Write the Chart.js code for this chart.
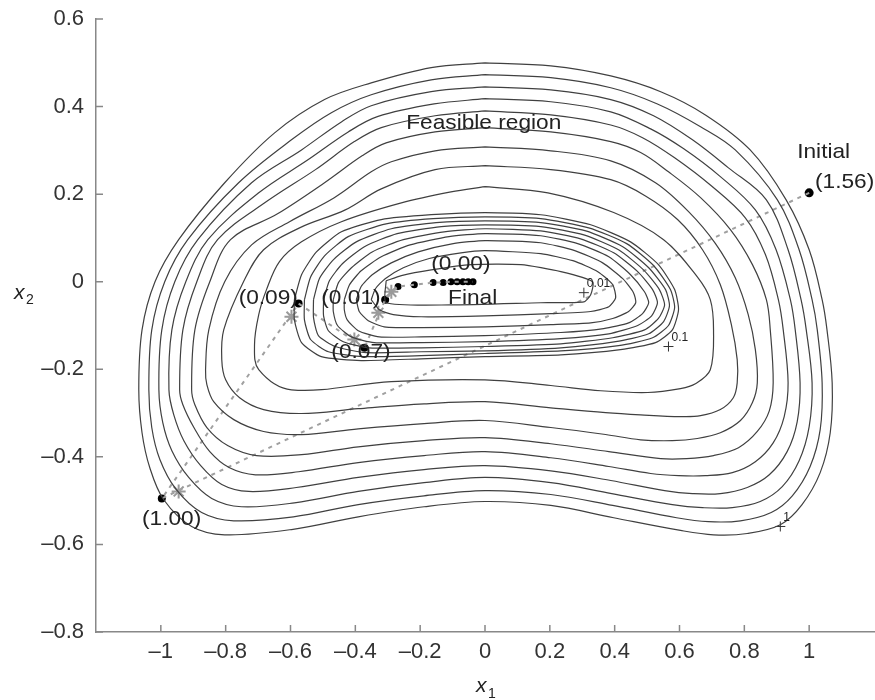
<!DOCTYPE html>
<html>
<head>
<meta charset="utf-8">
<script src="https://cdn.jsdelivr.net/npm/chart.js@4.4.0/dist/chart.umd.min.js"></script>
<style>
  body { margin: 0; background: #fff; }
  canvas { display: block; }
</style>
</head>
<body>
<canvas id="chart" width="875" height="700"></canvas>
<script>
// axis ticks
const xTicks = [-1, -0.8, -0.6, -0.4, -0.2, 0, 0.2, 0.4, 0.6, 0.8, 1];
const yTicks = [-0.8, -0.6, -0.4, -0.2, 0, 0.2, 0.4, 0.6];

// outer contour family (innermost k1 ... outermost k9, the "1" level)
const outerK9 = [[0,0.5],[0.203,0.493],[0.388,0.470],[0.542,0.434],[0.680,0.381],[0.818,0.301],[0.929,0.187],[1.000,0.073],[1.040,-0.041],[1.055,-0.110],[1.071,-0.231],[1.065,-0.345],[1.034,-0.436],[0.978,-0.509],[0.911,-0.555],[0.809,-0.575],[0.705,-0.578],[0.603,-0.568],[0.397,-0.539],[0.203,-0.511],[0,-0.502],[-0.188,-0.514],[-0.391,-0.537],[-0.597,-0.566],[-0.803,-0.578],[-0.905,-0.559],[-0.991,-0.498],[-1.034,-0.425],[-1.058,-0.345],[-1.068,-0.247],[-1.058,-0.110],[-1.018,0],[-0.945,0.096],[-0.803,0.226],[-0.649,0.340],[-0.495,0.416],[-0.351,0.454],[-0.166,0.489],[0,0.5]];
const outerK8 = [[0,0.473],[0.203,0.466],[0.388,0.443],[0.532,0.406],[0.665,0.354],[0.772,0.301],[0.902,0.187],[0.969,0.073],[1.009,-0.041],[1.025,-0.110],[1.040,-0.231],[1.034,-0.338],[1.003,-0.422],[0.948,-0.489],[0.883,-0.527],[0.788,-0.546],[0.689,-0.548],[0.591,-0.539],[0.394,-0.511],[0.203,-0.486],[0,-0.477],[-0.188,-0.489],[-0.391,-0.509],[-0.591,-0.537],[-0.775,-0.546],[-0.874,-0.527],[-0.954,-0.473],[-1.003,-0.406],[-1.028,-0.333],[-1.037,-0.247],[-1.028,-0.110],[-0.988,0],[-0.917,0.096],[-0.760,0.226],[-0.597,0.324],[-0.474,0.386],[-0.351,0.427],[-0.166,0.461],[0,0.473]];
const outerK7 = [[0,0.445],[0.203,0.438],[0.388,0.416],[0.520,0.379],[0.640,0.324],[0.751,0.260],[0.868,0.187],[0.935,0.073],[0.975,-0.041],[0.991,-0.110],[1.009,-0.231],[1.000,-0.331],[0.969,-0.409],[0.917,-0.468],[0.849,-0.502],[0.763,-0.516],[0.671,-0.516],[0.578,-0.509],[0.391,-0.484],[0.203,-0.459],[0,-0.447],[-0.188,-0.459],[-0.391,-0.479],[-0.588,-0.505],[-0.751,-0.514],[-0.843,-0.495],[-0.914,-0.447],[-0.966,-0.386],[-0.994,-0.322],[-1.006,-0.247],[-0.997,-0.110],[-0.957,0],[-0.886,0.096],[-0.720,0.226],[-0.566,0.301],[-0.443,0.365],[-0.351,0.402],[-0.166,0.434],[0,0.445]];
const outerK6 = [[0,0.418],[0.203,0.411],[0.388,0.388],[0.511,0.349],[0.612,0.304],[0.726,0.240],[0.834,0.164],[0.898,0.073],[0.942,-0.041],[0.957,-0.110],[0.972,-0.231],[0.963,-0.320],[0.932,-0.388],[0.877,-0.441],[0.809,-0.470],[0.726,-0.484],[0.640,-0.484],[0.554,-0.477],[0.388,-0.454],[0.203,-0.432],[0,-0.420],[-0.188,-0.429],[-0.391,-0.447],[-0.582,-0.470],[-0.729,-0.479],[-0.812,-0.463],[-0.877,-0.420],[-0.929,-0.363],[-0.960,-0.304],[-0.975,-0.247],[-0.966,-0.110],[-0.923,0],[-0.855,0.096],[-0.698,0.203],[-0.545,0.279],[-0.422,0.342],[-0.332,0.377],[-0.157,0.406],[0,0.418]];
const outerK5 = [[0,0.390],[0.203,0.381],[0.388,0.358],[0.486,0.329],[0.585,0.283],[0.698,0.219],[0.803,0.146],[0.865,0.062],[0.905,-0.041],[0.920,-0.110],[0.935,-0.231],[0.923,-0.308],[0.889,-0.368],[0.834,-0.411],[0.763,-0.436],[0.680,-0.443],[0.597,-0.443],[0.511,-0.438],[0.382,-0.422],[0.203,-0.402],[0,-0.388],[-0.188,-0.397],[-0.391,-0.413],[-0.575,-0.434],[-0.708,-0.441],[-0.788,-0.425],[-0.849,-0.388],[-0.898,-0.333],[-0.932,-0.281],[-0.942,-0.247],[-0.932,-0.110],[-0.889,0],[-0.825,0.096],[-0.674,0.183],[-0.523,0.256],[-0.403,0.320],[-0.320,0.352],[-0.154,0.379],[0,0.390]];
const outerK4 = [[0,0.352],[0.203,0.342],[0.388,0.320],[0.480,0.295],[0.566,0.251],[0.665,0.192],[0.757,0.119],[0.825,0.039],[0.868,-0.041],[0.880,-0.110],[0.889,-0.231],[0.877,-0.295],[0.840,-0.342],[0.782,-0.379],[0.705,-0.397],[0.622,-0.404],[0.542,-0.404],[0.382,-0.388],[0.203,-0.370],[0,-0.356],[-0.188,-0.363],[-0.391,-0.377],[-0.566,-0.395],[-0.705,-0.397],[-0.794,-0.374],[-0.858,-0.333],[-0.895,-0.281],[-0.905,-0.247],[-0.895,-0.110],[-0.849,0],[-0.785,0.096],[-0.640,0.155],[-0.495,0.226],[-0.378,0.288],[-0.305,0.317],[-0.154,0.342],[0,0.352]];
const outerK3 = [[0,0.308],[0.203,0.299],[0.388,0.276],[0.526,0.226],[0.628,0.160],[0.711,0.087],[0.772,0.009],[0.812,-0.075],[0.834,-0.155],[0.840,-0.231],[0.825,-0.276],[0.788,-0.317],[0.726,-0.345],[0.655,-0.358],[0.578,-0.363],[0.480,-0.361],[0.372,-0.349],[0.203,-0.333],[0,-0.317],[-0.188,-0.324],[-0.391,-0.336],[-0.566,-0.349],[-0.683,-0.342],[-0.775,-0.315],[-0.837,-0.274],[-0.858,-0.235],[-0.862,-0.201],[-0.852,-0.110],[-0.803,0],[-0.720,0.084],[-0.603,0.137],[-0.465,0.192],[-0.351,0.251],[-0.289,0.274],[-0.154,0.299],[0,0.308]];
const outerK2 = [[0,0.265],[0.203,0.256],[0.388,0.233],[0.495,0.196],[0.594,0.142],[0.671,0.073],[0.726,-0.007],[0.760,-0.098],[0.778,-0.178],[0.778,-0.231],[0.766,-0.265],[0.726,-0.292],[0.665,-0.306],[0.603,-0.308],[0.480,-0.304],[0.372,-0.299],[0.203,-0.288],[0,-0.274],[-0.188,-0.279],[-0.391,-0.290],[-0.566,-0.301],[-0.683,-0.292],[-0.757,-0.265],[-0.800,-0.224],[-0.812,-0.178],[-0.806,-0.110],[-0.745,0],[-0.683,0.073],[-0.572,0.123],[-0.431,0.164],[-0.320,0.212],[-0.154,0.256],[0,0.265]];
const outerK1 = [[0,0.217],[0.194,0.203],[0.397,0.158],[0.551,0.096],[0.655,0.011],[0.695,-0.041],[0.705,-0.110],[0.695,-0.201],[0.649,-0.233],[0.603,-0.244],[0.502,-0.253],[0.357,-0.249],[0.203,-0.237],[0,-0.224],[-0.289,-0.228],[-0.597,-0.247],[-0.698,-0.201],[-0.711,-0.144],[-0.698,-0.075],[-0.674,-0.018],[-0.634,0.046],[-0.566,0.091],[-0.443,0.137],[-0.258,0.180],[-0.105,0.205],[0,0.217]];

// inner, tightly packed family (c1 = "0.01" ... c9 = "0.1")
const innerC9 = [[-0.588,-0.041],[-0.566,0.016],[-0.520,0.068],[-0.443,0.114],[-0.320,0.142],[-0.166,0.153],[0,0.158],[0.172,0.153],[0.326,0.130],[0.449,0.091],[0.535,0.039],[0.585,-0.018],[0.597,-0.064],[0.578,-0.110],[0.526,-0.139],[0.418,-0.155],[0.234,-0.167],[0,-0.171],[-0.197,-0.176],[-0.382,-0.180],[-0.505,-0.171],[-0.566,-0.139],[-0.588,-0.087],[-0.588,-0.041]];
const innerC8 = [[-0.557,-0.041],[-0.538,0.011],[-0.495,0.059],[-0.422,0.103],[-0.305,0.132],[-0.160,0.144],[0,0.148],[0.172,0.144],[0.320,0.123],[0.437,0.087],[0.520,0.037],[0.572,-0.018],[0.585,-0.059],[0.566,-0.100],[0.517,-0.128],[0.412,-0.146],[0.234,-0.158],[0,-0.164],[-0.197,-0.169],[-0.375,-0.171],[-0.483,-0.160],[-0.538,-0.132],[-0.557,-0.087],[-0.557,-0.041]];
const innerC7 = [[-0.529,-0.041],[-0.511,0.007],[-0.468,0.050],[-0.397,0.091],[-0.289,0.121],[-0.151,0.135],[0,0.139],[0.172,0.135],[0.311,0.116],[0.425,0.080],[0.505,0.032],[0.557,-0.018],[0.569,-0.055],[0.551,-0.091],[0.505,-0.119],[0.403,-0.137],[0.234,-0.151],[0,-0.158],[-0.197,-0.160],[-0.366,-0.162],[-0.462,-0.148],[-0.514,-0.123],[-0.529,-0.082],[-0.529,-0.041]];
const innerC6 = [[-0.498,-0.041],[-0.480,0.002],[-0.440,0.041],[-0.372,0.080],[-0.271,0.110],[-0.135,0.126],[0,0.130],[0.172,0.126],[0.305,0.107],[0.412,0.073],[0.489,0.027],[0.538,-0.018],[0.554,-0.053],[0.535,-0.084],[0.492,-0.110],[0.394,-0.128],[0.234,-0.142],[0,-0.148],[-0.197,-0.151],[-0.357,-0.151],[-0.437,-0.137],[-0.483,-0.112],[-0.498,-0.078],[-0.498,-0.041]];
const innerC5 = [[-0.468,-0.041],[-0.452,-0.002],[-0.412,0.032],[-0.348,0.068],[-0.252,0.096],[-0.126,0.114],[0,0.121],[0.172,0.116],[0.295,0.098],[0.397,0.066],[0.471,0.023],[0.517,-0.018],[0.532,-0.048],[0.514,-0.078],[0.471,-0.100],[0.382,-0.119],[0.234,-0.130],[0,-0.137],[-0.197,-0.139],[-0.342,-0.139],[-0.412,-0.126],[-0.455,-0.100],[-0.468,-0.068],[-0.468,-0.041]];
const innerC4 = [[-0.434,-0.041],[-0.418,-0.007],[-0.382,0.025],[-0.320,0.057],[-0.231,0.084],[-0.111,0.103],[0,0.110],[0.172,0.105],[0.286,0.087],[0.382,0.057],[0.449,0.016],[0.492,-0.023],[0.505,-0.048],[0.486,-0.073],[0.443,-0.094],[0.366,-0.107],[0.234,-0.116],[0,-0.123],[-0.197,-0.126],[-0.326,-0.126],[-0.391,-0.112],[-0.425,-0.087],[-0.434,-0.064],[-0.434,-0.041]];
const innerC3 = [[-0.397,-0.041],[-0.382,-0.011],[-0.348,0.016],[-0.289,0.043],[-0.206,0.068],[-0.098,0.087],[0,0.094],[0.172,0.089],[0.277,0.071],[0.363,0.043],[0.425,0.007],[0.458,-0.025],[0.465,-0.048],[0.443,-0.068],[0.394,-0.084],[0.326,-0.094],[0.203,-0.098],[0,-0.103],[-0.197,-0.105],[-0.311,-0.103],[-0.360,-0.089],[-0.388,-0.068],[-0.397,-0.041]];
const innerC2 = [[-0.351,-0.041],[-0.338,-0.016],[-0.308,0.007],[-0.252,0.032],[-0.172,0.053],[-0.074,0.066],[0,0.071],[0.172,0.064],[0.271,0.048],[0.348,0.023],[0.394,-0.007],[0.403,-0.037],[0.382,-0.057],[0.326,-0.068],[0.203,-0.073],[0,-0.078],[-0.197,-0.080],[-0.283,-0.075],[-0.326,-0.064],[-0.351,-0.041]];
const innerC1 = [[-0.305,0.002],[-0.258,0.014],[-0.166,0.027],[-0.043,0.039],[0.111,0.039],[0.234,0.023],[0.332,0],[0.326,-0.030],[0.305,-0.046],[0.172,-0.048],[-0.105,-0.053],[-0.305,-0.048],[-0.305,0.002]];

// optimisation path: iterates from Initial (1.56) to Final (0.00)
const pathX = [1.0, -0.997, -0.575, -0.372, -0.308, -0.268, -0.218, -0.160, -0.129, -0.105, -0.086, -0.068, -0.052, -0.037];
const pathY = [0.203, -0.495, -0.050, -0.151, -0.041, -0.011, -0.007, -0.002, -0.002, 0, 0, 0, 0, 0];
const arrowX = [-0.945, -0.597, -0.403, -0.329, -0.289];
const arrowY = [-0.479, -0.080, -0.132, -0.071, -0.023];

// contour level labels
const levelText = ['0.01', '0.1', '1'];
const levelX = [0.305, 0.566, 0.911];
const levelY = [-0.025, -0.148, -0.559];

// annotations
const noteText = ['Feasible region', 'Initial', '(1.56)', '(0.00)', 'Final', '(0.09)', '(0.01)', '(0.07)', '(1.00)'];
const noteX = [-0.243, 0.963, 1.018, -0.166, -0.114, -0.760, -0.505, -0.474, -1.058];
const noteY = [0.361, 0.295, 0.228, 0.039, -0.037, -0.037, -0.037, -0.162, -0.543];

document.addEventListener('DOMContentLoaded', function() {
  renderChart();

  function toPts(arr) {
    return arr.map(p => ({ x: p[0], y: p[1] }));
  }

  function fmt(v) {
    if (v === 0) return '0';
    return (v < 0 ? '\u2013' : '') + String(Math.abs(v));
  }

  function renderChart() {
    const outer = [outerK1, outerK2, outerK3, outerK4, outerK5, outerK6, outerK7, outerK8, outerK9];
    const inner = [innerC1, innerC2, innerC3, innerC4, innerC5, innerC6, innerC7, innerC8, innerC9];
    const datasets = [];

    outer.forEach(c => datasets.push({
      data: toPts(c), showLine: true, borderColor: '#404040', borderWidth: 1.2,
      pointRadius: 0, tension: 0.35, fill: false
    }));
    inner.forEach(c => datasets.push({
      data: toPts(c), showLine: true, borderColor: '#404040', borderWidth: 1.2,
      pointRadius: 0, tension: 0.2, fill: false
    }));

    const path = pathX.map((x, i) => ({ x: x, y: pathY[i] }));
    datasets.push({
      data: path, showLine: true, borderColor: '#a0a0a0', borderWidth: 2,
      borderDash: [4, 5], pointRadius: 0, tension: 0, fill: false
    });
    datasets.push({
      data: arrowX.map((x, i) => ({ x: x, y: arrowY[i] })), showLine: false,
      pointStyle: 'star', pointRadius: 7, borderColor: '#9a9a9a', borderWidth: 2
    });
    datasets.push({
      data: path, showLine: false, pointStyle: 'circle',
      pointRadius: path.map((p, i) => i === 0 ? 4.5 : (i < 5 ? 4 : 3.5)),
      backgroundColor: '#000', borderColor: '#000', borderWidth: 0
    });
    datasets.push({
      data: levelX.map((x, i) => ({ x: x, y: levelY[i] })), showLine: false,
      pointStyle: 'cross', pointRadius: 5, borderColor: '#333', borderWidth: 1
    });

    const overlay = {
      id: 'overlay',
      afterDraw(chart) {
        const c = chart.ctx;
        const xs = chart.scales.x, ys = chart.scales.y;
        const area = chart.chartArea;
        c.save();
        // inward tick marks
        c.strokeStyle = '#888';
        c.lineWidth = 1.5;
        c.beginPath();
        xTicks.forEach(v => {
          const px = xs.getPixelForValue(v);
          c.moveTo(px, area.bottom);
          c.lineTo(px, area.bottom - 7);
        });
        yTicks.forEach(v => {
          const py = ys.getPixelForValue(v);
          c.moveTo(area.left, py);
          c.lineTo(area.left + 7, py);
        });
        c.stroke();

        // annotations, slightly widened like the original lettering
        c.fillStyle = '#222';
        c.textBaseline = 'middle';
        c.textAlign = 'left';
        c.font = '21px "Liberation Sans", Arial, sans-serif';
        noteText.forEach((t, i) => {
          c.save();
          c.translate(xs.getPixelForValue(noteX[i]), ys.getPixelForValue(noteY[i]));
          c.scale(1.08, 1);
          c.fillText(t, 0, 0);
          c.restore();
        });

        // contour level labels
        c.font = '12px "Liberation Sans", Arial, sans-serif';
        levelText.forEach((t, i) => {
          c.fillText(t, xs.getPixelForValue(levelX[i]) + 3, ys.getPixelForValue(levelY[i]) - 9);
        });

        // axis titles x1, x2
        c.font = 'italic 21px "Liberation Sans", Arial, sans-serif';
        c.fillText('x', 476, 686);
        c.fillText('x', 14, 293);
        c.font = '14px "Liberation Sans", Arial, sans-serif';
        c.fillText('1', 488, 694);
        c.fillText('2', 26, 300);
        c.restore();
      }
    };

    const tickFont = { family: '"Liberation Sans", Arial, sans-serif', size: 22 };
    const ctx = document.getElementById('chart').getContext('2d');
    new Chart(ctx, {
      type: 'scatter',
      data: { datasets: datasets },
      options: {
        responsive: false,
        animation: false,
        layout: { autoPadding: false, padding: { top: 19, right: 1, left: 0, bottom: 0 } },
        plugins: { legend: { display: false }, tooltip: { enabled: false } },
        scales: {
          x: {
            type: 'linear', min: -1.2, max: 1.2,
            afterBuildTicks: s => { s.ticks = xTicks.map(v => ({ value: v })); },
            afterFit: s => { s.height = 68; s.paddingLeft = 0; s.paddingRight = 0; },
            ticks: { callback: fmt, font: tickFont, color: '#333', padding: 7, maxRotation: 0, autoSkip: false },
            grid: { display: false, drawTicks: false },
            border: { display: true, color: '#888', width: 1.5 }
          },
          y: {
            type: 'linear', min: -0.8, max: 0.6,
            afterBuildTicks: s => { s.ticks = yTicks.map(v => ({ value: v })); },
            afterFit: s => { s.width = 96; s.paddingTop = 0; s.paddingBottom = 0; },
            ticks: { callback: fmt, font: tickFont, color: '#333', padding: 12, autoSkip: false },
            grid: { display: false, drawTicks: false },
            border: { display: true, color: '#888', width: 1.5 }
          }
        }
      },
      plugins: [overlay]
    });
  }
});
</script>
</body>
</html>
